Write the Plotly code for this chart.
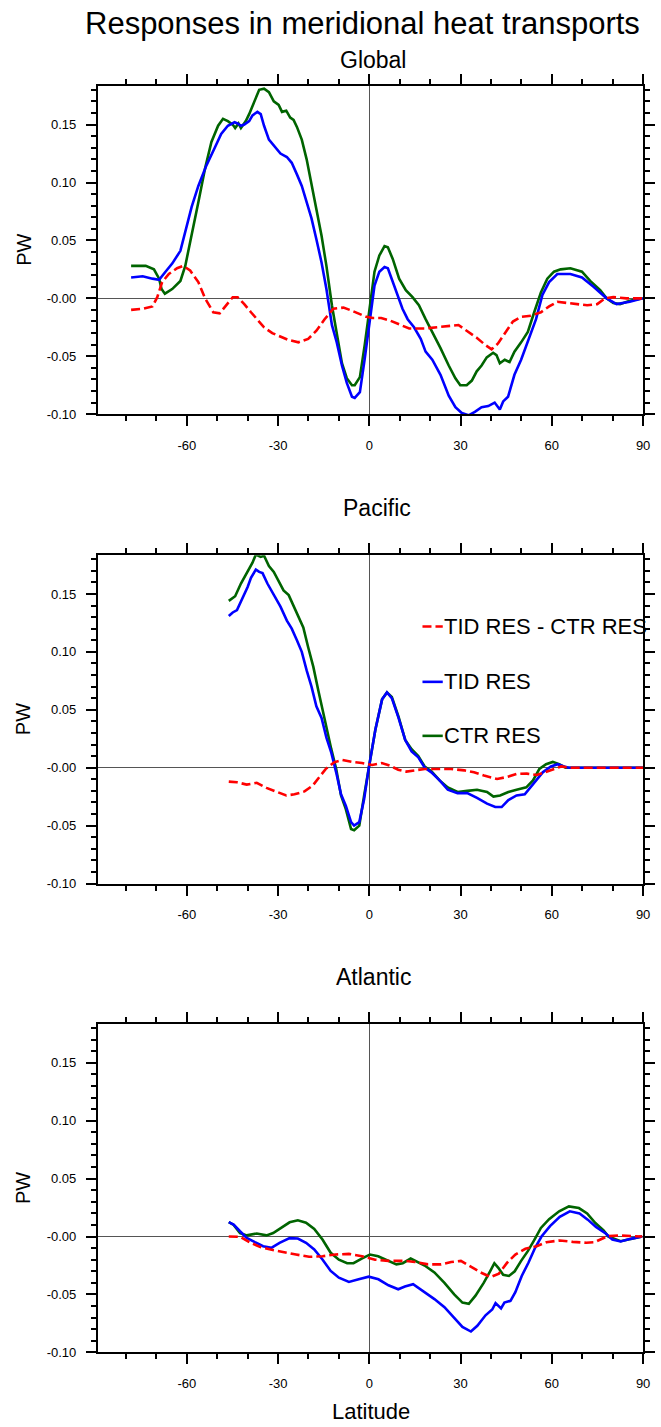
import plotly.graph_objects as go

W, H = 661, 1427

# ---------------- data ----------------
# Global
glob_ctr_lat = [-78.3,-73.5,-70.8,-69.1,-68.3,-67.2,-64.8,-62.1,-60.5,-58.4,-56.2,-54.0,-51.9,-49.7,-48.1,-46.5,-44.9,-44.1,-43.0,-42.2,
                -40.6,-39.5,-38.4,-37.3,-36.2,-34.6,-33.0,-31.4,-29.8,-28.7,-27.3,-26.0,-24.9,-23.8,-22.2,-20.6,-19.0,-17.4,-15.7,-14.1,
                -12.3,-10.7,-9.0,-7.4,-5.7,-4.8,-3.1,-1.5,0.1,1.7,3.3,5.0,6.1,7.7,9.8,12.0,14.2,16.3,18.5,20.7,
                23.4,26.1,28.3,29.9,32.0,33.7,35.3,36.9,38.6,40.7,41.8,42.9,44.5,46.1,47.7,49.9,52.1,54.2,56.4,58.5,
                60.7,62.9,66.1,69.9,72.6,75.9,78.0,80.2,82.4,85.6,89.9]
glob_ctr = [0.028,0.028,0.025,0.017,0.008,0.004,0.008,0.015,0.028,0.054,0.083,0.112,0.135,0.149,0.155,0.153,0.150,0.147,0.151,0.147,
            0.153,0.159,0.166,0.173,0.180,0.181,0.178,0.170,0.167,0.161,0.162,0.156,0.154,0.148,0.137,0.120,0.100,0.077,0.054,0.028,
            -0.006,-0.029,-0.056,-0.069,-0.075,-0.075,-0.068,-0.040,-0.006,0.023,0.037,0.045,0.044,0.034,0.017,0.007,0.001,-0.006,-0.018,-0.029,
            -0.043,-0.058,-0.069,-0.075,-0.075,-0.071,-0.063,-0.058,-0.051,-0.047,-0.049,-0.056,-0.053,-0.055,-0.046,-0.038,-0.029,-0.012,0.005,0.017,
            0.023,0.025,0.026,0.023,0.015,0.007,0.000,-0.004,-0.005,-0.002,0.000]

glob_tid_lat = [-78.3,-74.5,-71.3,-69.1,-67.0,-64.8,-62.1,-60.5,-58.4,-56.2,-53.5,-50.8,-48.7,-46.5,-44.3,-43.3,-42.2,-41.1,-39.5,-38.4,
                -36.8,-35.7,-34.6,-33.0,-31.4,-29.2,-27.1,-25.5,-23.8,-22.2,-20.6,-19.0,-17.4,-15.7,-14.1,-12.3,-10.7,-9.0,-7.4,-5.7,
                -4.8,-3.1,-1.5,0.1,1.7,3.3,5.0,6.1,7.7,9.3,10.9,12.6,14.7,16.9,18.5,20.7,23.4,26.1,28.3,30.4,
                32.6,34.7,36.9,39.1,41.2,42.9,44.0,45.6,47.7,49.9,52.1,54.8,56.9,59.1,61.8,66.1,69.9,73.7,78.0,81.3,
                85.6,89.9]
glob_tid = [0.018,0.019,0.017,0.016,0.023,0.030,0.041,0.057,0.079,0.097,0.115,0.130,0.142,0.149,0.152,0.151,0.149,0.150,0.153,0.158,
            0.161,0.159,0.149,0.137,0.132,0.125,0.122,0.117,0.107,0.097,0.083,0.069,0.051,0.031,0.008,-0.023,-0.038,-0.058,-0.073,-0.085,
            -0.086,-0.081,-0.052,-0.018,0.011,0.023,0.027,0.026,0.014,0.003,-0.009,-0.018,-0.025,-0.035,-0.046,-0.053,-0.066,-0.084,-0.094,-0.099,
            -0.101,-0.098,-0.094,-0.093,-0.090,-0.096,-0.089,-0.085,-0.066,-0.053,-0.038,-0.018,0.003,0.014,0.021,0.021,0.018,0.010,0.000,-0.005,
            -0.003,0.000]

glob_diff_lat = [-78.3,-74.5,-71.3,-69.7,-68.1,-65.9,-63.2,-61.1,-58.9,-56.2,-54.0,-51.3,-49.2,-47.0,-44.9,-43.3,-41.1,-38.9,-36.8,-34.6,
                 -31.9,-29.2,-26.5,-23.3,-20.1,-17.4,-14.7,-11.8,-8.5,-6.4,-3.7,-1.0,1.2,3.9,6.6,9.3,13.1,18.5,22.8,26.1,
                 29.3,32.0,35.3,38.0,40.2,42.3,45.0,47.2,49.9,53.1,56.4,59.1,61.8,65.1,68.3,71.6,74.9,77.5,80.2,84.5,
                 89.9]
glob_diff = [-0.010,-0.009,-0.007,0.001,0.014,0.021,0.026,0.028,0.024,0.014,0.000,-0.012,-0.013,-0.006,0.001,0.001,-0.005,-0.012,-0.018,-0.025,
             -0.030,-0.033,-0.036,-0.038,-0.035,-0.028,-0.018,-0.009,-0.008,-0.010,-0.013,-0.016,-0.017,-0.017,-0.019,-0.022,-0.026,-0.026,-0.025,-0.024,
             -0.023,-0.028,-0.034,-0.040,-0.044,-0.039,-0.029,-0.020,-0.016,-0.015,-0.012,-0.007,-0.003,-0.004,-0.005,-0.006,-0.005,0.000,0.001,0.000,
             0.000]

# Pacific
pac_ctr_lat = [-46.2,-44.1,-42.2,-40.0,-38.4,-37.3,-35.7,-34.6,-33.0,-31.4,-29.8,-28.2,-26.5,-24.9,-23.3,-21.7,-20.1,-18.4,-16.8,-15.2,
               -14.1,-12.5,-10.9,-9.3,-7.7,-6.0,-5.0,-3.3,-1.7,-0.1,2.0,4.2,5.8,7.4,9.6,11.8,13.9,16.1,18.2,20.4,
               23.1,25.8,29.0,32.2,35.4,38.7,40.8,43.0,45.7,48.4,51.6,53.8,55.9,58.1,60.3,62.4,64.5,90.0]
pac_ctr = [0.144,0.148,0.159,0.170,0.177,0.184,0.182,0.183,0.174,0.169,0.161,0.153,0.149,0.140,0.131,0.121,0.104,0.087,0.067,0.047,
           0.033,0.016,-0.001,-0.024,-0.036,-0.053,-0.054,-0.050,-0.024,0.001,0.033,0.059,0.065,0.061,0.044,0.024,0.016,0.010,0.001,-0.003,
           -0.011,-0.017,-0.021,-0.020,-0.019,-0.021,-0.025,-0.024,-0.021,-0.019,-0.017,-0.011,-0.001,0.003,0.005,0.003,0.000,0.000]

pac_tid_lat = [-46.2,-44.9,-43.5,-41.6,-40.0,-38.9,-37.3,-36.2,-35.1,-33.5,-31.4,-29.2,-27.1,-25.5,-23.8,-22.2,-20.6,-19.0,-17.4,-15.7,
               -14.1,-12.5,-10.9,-9.3,-7.7,-6.0,-5.0,-3.3,-1.7,-0.1,2.0,4.2,5.8,7.4,9.6,11.8,13.9,16.1,18.2,20.4,
               23.1,25.8,29.0,32.2,35.4,38.7,41.4,43.5,45.7,48.4,51.1,53.8,57.0,59.7,61.9,64.0,65.6,90.0]
pac_tid = [0.131,0.134,0.136,0.147,0.156,0.164,0.171,0.169,0.168,0.159,0.149,0.139,0.127,0.120,0.110,0.100,0.084,0.070,0.053,0.043,
           0.026,0.013,-0.004,-0.023,-0.033,-0.047,-0.050,-0.047,-0.027,0.001,0.033,0.059,0.065,0.060,0.043,0.024,0.014,0.009,0.000,-0.004,
           -0.011,-0.019,-0.022,-0.022,-0.026,-0.031,-0.034,-0.034,-0.028,-0.024,-0.023,-0.014,-0.004,0.001,0.003,0.001,0.000,0.000]

pac_diff_lat = [-46.2,-43.5,-40.3,-37.0,-33.8,-30.5,-27.3,-24.6,-21.3,-18.6,-16.5,-14.3,-11.6,-8.9,-5.6,-2.4,0.9,4.1,6.8,9.5,
                12.2,14.9,18.2,22.5,26.9,31.2,34.4,37.7,42.0,45.3,48.5,51.8,55.0,57.7,60.4,63.1,65.9,90.0]
pac_diff = [-0.012,-0.0126,-0.0146,-0.013,-0.0174,-0.021,-0.024,-0.023,-0.0205,-0.0154,-0.0083,-0.001,0.0046,0.0066,0.005,0.004,0.0023,0.004,0.0017,-0.0017,
            -0.0034,-0.0026,-0.0011,-0.0011,-0.0011,-0.0023,-0.004,-0.0068,-0.0097,-0.008,-0.0054,-0.0051,-0.0063,-0.004,-0.0011,0.0011,0.0,0.0]

# Atlantic
atl_ctr_lat = [-46.2,-44.6,-42.5,-40.3,-37.0,-33.8,-31.6,-28.9,-26.2,-23.5,-20.8,-18.1,-15.4,-12.7,-10.0,-7.3,-5.2,-2.5,0.2,2.9,
               5.6,8.9,11.0,13.6,18.2,21.4,24.7,27.9,30.6,32.7,34.9,37.6,39.7,41.1,42.4,44.0,45.9,47.8,49.9,52.1,
               54.3,56.4,59.1,62.4,65.6,68.9,71.6,74.3,77.0,78.6,82.6,89.7]
atl_ctr = [0.0124,0.010,0.003,0.001,0.0026,0.001,0.003,0.0075,0.0123,0.014,0.012,0.0066,-0.0026,-0.014,-0.020,-0.023,-0.023,-0.019,-0.0155,-0.017,
           -0.020,-0.024,-0.023,-0.019,-0.025,-0.031,-0.040,-0.050,-0.057,-0.058,-0.051,-0.040,-0.030,-0.023,-0.027,-0.033,-0.034,-0.030,-0.021,-0.0126,
           -0.0026,0.0074,0.015,0.0218,0.026,0.0246,0.020,0.0117,0.0054,0.000,-0.004,0.000]

atl_tid_lat = [-46.2,-44.6,-42.5,-40.3,-37.6,-34.9,-32.2,-29.5,-26.2,-23.5,-20.8,-18.1,-15.4,-12.7,-10.0,-6.7,-3.5,-0.2,3.0,6.3,
               9.5,11.7,14.4,18.2,21.4,24.7,27.9,30.6,33.4,35.5,38.2,40.4,41.5,42.6,43.3,44.4,46.4,48.0,50.1,52.3,
               54.5,56.6,59.4,62.6,65.9,69.1,71.8,74.5,77.7,79.9,82.6,85.9,89.7]
atl_tid = [0.0124,0.0103,0.0046,-0.0011,-0.0048,-0.0083,-0.0097,-0.0054,-0.0014,-0.0017,-0.0054,-0.0112,-0.0198,-0.0297,-0.0355,-0.0392,-0.0369,-0.0346,-0.0369,-0.0421,
           -0.0455,-0.0432,-0.0412,-0.048,-0.054,-0.061,-0.070,-0.078,-0.082,-0.077,-0.068,-0.063,-0.0575,-0.060,-0.062,-0.057,-0.0555,-0.048,-0.034,-0.0226,
           -0.0097,0.000,0.009,0.017,0.0218,0.020,0.0146,0.0083,0.0026,-0.0026,-0.0043,-0.002,0.000]

atl_diff_lat = [-46.2,-42.5,-39.3,-36.0,-32.8,-28.5,-24.1,-19.8,-15.4,-11.1,-6.7,-2.4,1.9,6.3,11.7,15.0,19.3,23.6,26.9,30.1,
                33.4,36.6,39.9,42.6,45.3,48.0,51.3,55.0,58.2,62.6,66.9,71.3,74.0,76.1,78.3,82.0,89.7]
atl_diff = [0.000,-0.0002,-0.005,-0.0089,-0.011,-0.0135,-0.0155,-0.0175,-0.017,-0.0155,-0.015,-0.017,-0.020,-0.021,-0.021,-0.022,-0.024,-0.024,-0.022,-0.021,
            -0.026,-0.031,-0.035,-0.032,-0.0226,-0.0155,-0.0106,-0.0083,-0.0049,-0.0034,-0.0046,-0.0054,-0.0049,-0.0026,0.0003,0.0009,0.000]

panel_titles = ["Global", "Pacific", "Atlantic"]
series_names = ["TID RES - CTR RES", "TID RES", "CTR RES"]
x_tickvals = [-60, -30, 0, 30, 60, 90]
x_ticktext = ["-60", "-30", "0", "30", "60", "90"]
y_tickvals = [-0.10, -0.05, 0.0, 0.05, 0.10, 0.15]
y_ticktext = ["-0.10", "-0.05", "-0.00", "0.05", "0.10", "0.15"]

# ---------------- styling ----------------
FONT = "Liberation Sans, Arial, Helvetica, sans-serif"
RED, BLUE, GREEN = "#ff0000", "#0000ff", "#006400"
DASH = "9px,4px"
LW = 2.6

def pxx(px):
    return px / W

def pxy(py):
    return 1 - py / H

plot_left, plot_right = 99, 650
panel_tops = [86.5, 558.5, 1030]
panel_h = 330

panels = [
    (glob_ctr_lat, glob_ctr, glob_tid_lat, glob_tid, glob_diff_lat, glob_diff),
    (pac_ctr_lat, pac_ctr, pac_tid_lat, pac_tid, pac_diff_lat, pac_diff),
    (atl_ctr_lat, atl_ctr, atl_tid_lat, atl_tid, atl_diff_lat, atl_diff),
]

fig = go.Figure()
layout = dict(
    width=W, height=H, autosize=False,
    margin=dict(l=0, r=0, t=0, b=0),
    paper_bgcolor="white", plot_bgcolor="white",
    showlegend=False,
    font=dict(family=FONT, color="black", size=13),
)

annotations = []
shapes = []

for i, (cl, cv, tl, tv, dl, dv) in enumerate(panels):
    n = "" if i == 0 else str(i + 1)
    xa, ya = "x" + n, "y" + n
    fig.add_trace(go.Scatter(x=cl, y=cv, mode="lines", xaxis=xa, yaxis=ya,
                             line=dict(color=GREEN, width=LW), name=series_names[2]))
    fig.add_trace(go.Scatter(x=tl, y=tv, mode="lines", xaxis=xa, yaxis=ya,
                             line=dict(color=BLUE, width=LW), name=series_names[1]))
    fig.add_trace(go.Scatter(x=dl, y=dv, mode="lines", xaxis=xa, yaxis=ya,
                             line=dict(color=RED, width=LW, dash=DASH), name=series_names[0]))
    top = panel_tops[i]
    bot = top + panel_h
    layout["xaxis" + n] = dict(
        domain=[pxx(plot_left), pxx(plot_right)], anchor=ya,
        range=[-89.2, 90], tickmode="array", tickvals=x_tickvals, ticktext=x_ticktext,
        showline=True, linewidth=2, linecolor="black", mirror="ticks",
        ticks="outside", ticklen=10, tickwidth=2, tickcolor="black",
        ticklabelstandoff=8,
        minor=dict(tickmode="array", tickvals=[-80, -70, -50, -40, -20, -10, 10, 20, 40, 50, 70, 80],
                   ticks="outside", ticklen=5, tickwidth=1.5, tickcolor="black"),
        showgrid=False, zeroline=True, zerolinecolor="#555555", zerolinewidth=1.2,
        tickfont=dict(family=FONT, size=13, color="black"),
    )
    layout["yaxis" + n] = dict(
        domain=[pxy(bot), pxy(top)], anchor=xa,
        range=[-0.1, 0.1833], tickmode="array", tickvals=y_tickvals, ticktext=y_ticktext,
        showline=True, linewidth=2, linecolor="black", mirror="ticks",
        ticks="outside", ticklen=10, tickwidth=2, tickcolor="black",
        ticklabelstandoff=7,
        minor=dict(tickmode="array",
                   tickvals=[round(-0.09 + 0.01 * k, 2) for k in range(28)],
                   ticks="outside", ticklen=5, tickwidth=1.5, tickcolor="black"),
        showgrid=False, zeroline=True, zerolinecolor="#555555", zerolinewidth=1.2,
        tickfont=dict(family=FONT, size=13, color="black"),
    )
    # "PW" axis label
    annotations.append(dict(text="PW", x=pxx(24), y=pxy(top + panel_h / 2), xref="paper", yref="paper",
                            xanchor="center", yanchor="middle", textangle=-90, showarrow=False,
                            font=dict(family=FONT, size=20, color="black")))

# panel titles
title_pos = [(377, 60.3), (381, 511), (378, 983)]
for t, (cx, cy) in zip(panel_titles, title_pos):
    annotations.append(dict(text=t, x=pxx(cx), y=pxy(cy), xref="paper", yref="paper",
                            xanchor="center", yanchor="middle", showarrow=False,
                            font=dict(family=FONT, size=23, color="black")))

# main title
annotations.append(dict(text="Responses in meridional heat transports", x=pxx(366.5), y=pxy(23.4),
                        xref="paper", yref="paper", xanchor="center", yanchor="middle", showarrow=False,
                        font=dict(family=FONT, size=31, color="black")))

# x axis title (bottom, partly cut by the page edge as in the reference)
annotations.append(dict(text="Latitude", x=pxx(375), y=pxy(1419.6), xref="paper", yref="paper",
                        xanchor="center", yanchor="middle", showarrow=False,
                        font=dict(family=FONT, size=22, color="black")))

# legend inside the Pacific panel
leg_y = [630, 685.7, 740]
leg_style = [(RED, DASH), (BLUE, "solid"), (GREEN, "solid")]
for name, ly, (col, dsh) in zip(series_names, leg_y, leg_style):
    shapes.append(dict(type="line", xref="paper", yref="paper",
                       x0=pxx(427), x1=pxx(447.5), y0=pxy(ly), y1=pxy(ly),
                       line=dict(color=col, width=LW, dash=dsh)))
    annotations.append(dict(text=name, x=pxx(447), y=pxy(ly), xref="paper", yref="paper",
                            xanchor="left", yanchor="middle", showarrow=False,
                            font=dict(family=FONT, size=22, color="black")))

layout["annotations"] = annotations
layout["shapes"] = shapes
fig.update_layout(**layout)
fig.write_html("out.html",
               config={"displayModeBar": False},
               post_script="document.body.style.margin='0';document.body.style.overflow='hidden';")
